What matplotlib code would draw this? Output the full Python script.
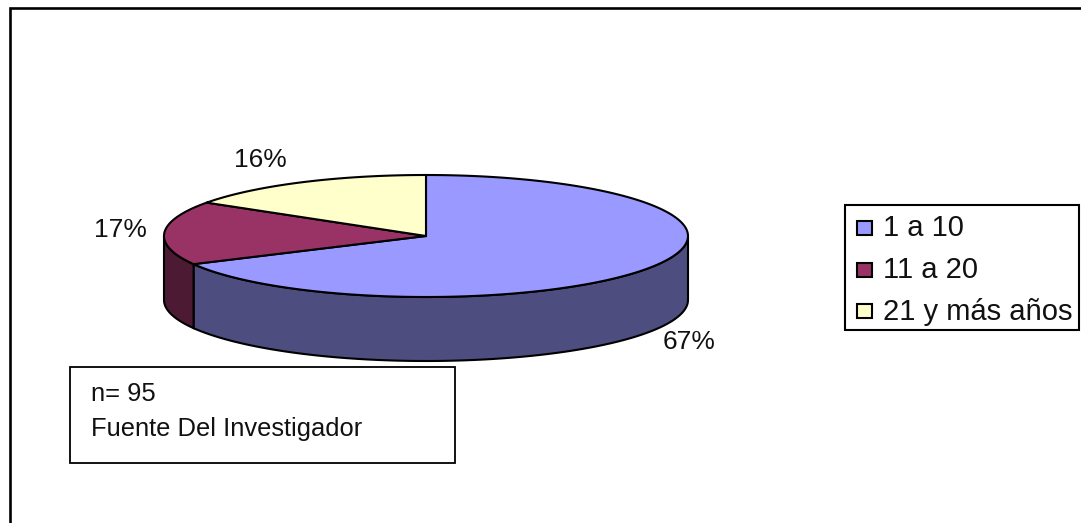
import numpy as np
import matplotlib
matplotlib.use("Agg")
import matplotlib.pyplot as plt
from matplotlib.patches import Polygon, Rectangle

categories = ["1 a 10", "11 a 20", "21 y más años"]
counts = [64, 16, 15]
pct_labels = ["67%", "17%", "16%"]
note_lines = ["n= 95", "Fuente Del Investigador"]
top_colors = ["#9999FF", "#993366", "#FFFFCC"]
side_colors = ["#4D4D80", "#4D1A33", "#808066"]

plt.rcParams["font.family"] = ["Liberation Sans", "DejaVu Sans"]
W, H = 1081, 523
fig = plt.figure(figsize=(W / 100, H / 100), dpi=100, facecolor="white")
ax = fig.add_axes([0, 0, 1, 1])
ax.set_xlim(0, W)
ax.set_ylim(H, 0)
ax.axis("off")

ax.add_patch(Rectangle((10, 8), W + 20, H + 20, fc="white", ec="black", lw=1.9, zorder=0))

cx, cy, rx, ry, depth = 426, 236, 262, 61, 64

def pt(a, dy=0.0):
    a = np.asarray(a)
    return np.c_[cx + rx * np.cos(a), cy - ry * np.sin(a) + dy]

fracs = np.array(counts) / np.sum(counts)
edges = np.pi / 2 - 2 * np.pi * np.r_[0, np.cumsum(fracs)]

# side walls, only the front half (angles between -pi and 0)
for i in range(3):
    hi, lo = edges[i], edges[i + 1]
    a1, a0 = min(hi, 0.0), max(lo, -np.pi)
    if a1 > a0:
        arc = np.linspace(a1, a0, 120)
        ax.add_patch(Polygon(np.r_[pt(arc), pt(arc[::-1], depth)], closed=True,
                             fc=side_colors[i], ec="black", lw=1.5, zorder=2))
# top face
for i in range(3):
    arc = np.linspace(edges[i], edges[i + 1], 200)
    ax.add_patch(Polygon(np.r_[[[cx, cy]], pt(arc)], closed=True,
                         fc=top_colors[i], ec="black", lw=1.5, zorder=3))

fs = 19
ax.text(689, 342, pct_labels[0], fontsize=fs, ha="center", va="center", color="#111111")
ax.text(120, 230, pct_labels[1], fontsize=fs, ha="center", va="center", color="#111111")
ax.text(260, 160, pct_labels[2], fontsize=fs, ha="center", va="center", color="#111111")

# note box
ax.add_patch(Rectangle((70, 367), 385, 96, fc="white", ec="black", lw=1.3, zorder=4))
ax.text(91, 394, note_lines[0], fontsize=18.4, va="center", zorder=5, color="#111111")
ax.text(91, 429, note_lines[1], fontsize=18.4, va="center", zorder=5, color="#111111")

# legend
ax.add_patch(Rectangle((844.5, 204.5), 234.5, 125, fc="white", ec="black", lw=1.5, zorder=4))
for y, c, t in zip([228, 270, 311], top_colors, categories):
    ax.add_patch(Rectangle((857, y - 7), 15, 14, fc=c, ec="black", lw=1.5, zorder=5))
    ax.text(883, y + 0.5, t, fontsize=21, va="center", zorder=5, color="#111111")

fig.savefig("out.png", dpi=100)
